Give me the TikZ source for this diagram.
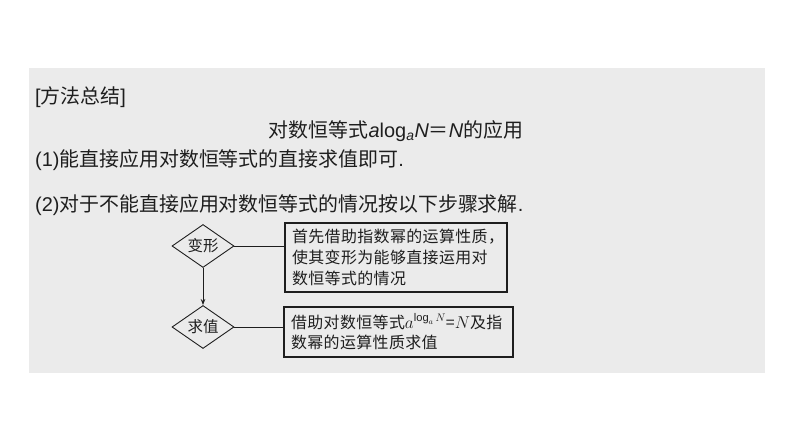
\documentclass[tikz,border=0pt]{standalone}
\usepackage{fontspec}
\setmainfont{Liberation Sans}
\newfontfamily\cjk{Noto Sans CJK SC}
\newfontfamily\cjkwide[LetterSpace=2.5]{Noto Sans CJK SC}
\newcommand\lat[1]{{\rmfamily #1}}
\usepackage{xcolor}
\usetikzlibrary{shapes.geometric,arrows.meta}
\definecolor{panel}{HTML}{EBEBEB}
\definecolor{ink}{HTML}{1E1E1E}
\tikzset{
  head/.style={text=ink, font=\cjk\fontsize{20}{24}\selectfont, inner sep=0pt},
  choice/.style={diamond, draw=ink, line width=0.9pt, aspect=1.5, inner sep=0pt,
    minimum width=62bp, minimum height=43bp, text=ink, font=\cjk\fontsize{15.5}{18}\selectfont},
  note/.style={draw=ink, line width=1.1pt, inner xsep=7bp, inner ysep=0pt, align=left,
    text=ink, font=\cjkwide\fontsize{16}{21}\selectfont},
  link/.style={draw=ink, line width=0.9pt},
}
\begin{document}
\begin{tikzpicture}[x=1bp,y=-1bp]
  \useasboundingbox (0,0) rectangle (794,447);
  \fill[panel] (29,68) rectangle (765,373);

  \node[head,anchor=west] (tag) at (35,97) {\lat{[}方法总结\lat{]}};
  \node[head] (title) at (396,131)
    {对数恒等式\lat{\textit{a}log\textsubscript{\textit{a}}\textit{N}}＝\lat{\textit{N}}的应用};
  \node[head,anchor=west] (s1) at (35,160) {\lat{(1)}能直接应用对数恒等式的直接求值即可\lat{.}};
  \node[head,anchor=west] (s2) at (35,205) {\lat{(2)}对于不能直接应用对数恒等式的情况按以下步骤求解\lat{.}};

  \node[choice] (d1) at (203,246) {变形};
  \node[choice] (d2) at (203,327) {求值};
  \node[note,text width=208bp,minimum height=69bp] (b1) at (396,257.5)
    {首先借助指数幂的运算性质，\\使其变形为能够直接运用对\\数恒等式的情况};
  \node[note,text width=215bp,minimum height=50bp] (b2) at (398.5,332)
    {借助对数恒等式$a^{\log_a N}$=$N$及指\\数幂的运算性质求值};

  \draw[link,-{Stealth[length=6bp,width=4.5bp]}] (d1.south) -- (d2.north);
  \draw[link] (d1.east) -- (d1.east -| b1.west);
  \draw[link] (d2.east) -- (d2.east -| b2.west);
\end{tikzpicture}
\end{document}
